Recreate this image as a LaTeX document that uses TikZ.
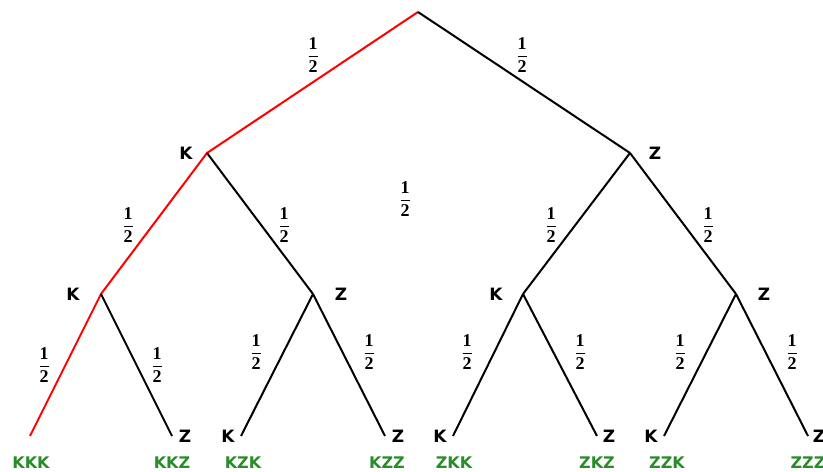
\documentclass[tikz,border=0pt]{standalone}
\usepackage{fontspec}
\setmainfont{Liberation Serif}
\newfontfamily\lblfont{DejaVu Sans}
\definecolor{leafgreen}{RGB}{40,140,40}
\tikzset{
  edge/.style={line width=2bp, black},
  redge/.style={line width=2bp, red},
  lbl/.style={font=\lblfont\bfseries\fontsize{17bp}{19bp}\selectfont, inner sep=0pt},
  leaf/.style={font=\lblfont\bfseries\fontsize{16bp}{18bp}\selectfont, text=leafgreen, inner sep=0pt},
  prob/.style={font=\bfseries\fontsize{18bp}{20bp}\selectfont, inner sep=0pt}
}
\newcommand{\half}{$\displaystyle\frac{\mbox{\bfseries 1}}{\mbox{\bfseries 2}}$}
\begin{document}
\begin{tikzpicture}[x=1bp,y=-1bp]
\useasboundingbox (0,0) rectangle (823,472);
% tree points
\coordinate (r) at (418,12);
\coordinate (a) at (207,153);
\coordinate (b) at (630,153);
\coordinate (aa) at (101,294);
\coordinate (ab) at (313,294);
\coordinate (ba) at (523,294);
\coordinate (bb) at (736,294);
\coordinate (l1) at (30,436);
\coordinate (l2) at (172,436);
\coordinate (l3) at (241,436);
\coordinate (l4) at (385,436);
\coordinate (l5) at (453,436);
\coordinate (l6) at (597,436);
\coordinate (l7) at (664,436);
\coordinate (l8) at (808,436);
% edges
\draw[redge, line join=miter] (r) -- (a) -- (aa) -- (l1);
\draw[edge] (r) -- (b);
\draw[edge] (a) -- (ab);
\draw[edge] (aa) -- (l2);
\draw[edge] (ab) -- (l3);
\draw[edge] (ab) -- (l4);
\draw[edge] (b) -- (ba);
\draw[edge] (b) -- (bb);
\draw[edge] (ba) -- (l5);
\draw[edge] (ba) -- (l6);
\draw[edge] (bb) -- (l7);
\draw[edge] (bb) -- (l8);
% node letters
\node[lbl] (ta) at (186,153) {K};
\node[lbl] (tb) at (655,153) {Z};
\node[lbl] (taa) at (73,294) {K};
\node[lbl] (tab) at (341,294) {Z};
\node[lbl] (tba) at (496,294) {K};
\node[lbl] (tbb) at (764,294) {Z};
\node[lbl] (t2) at (185,436) {Z};
\node[lbl] (t3) at (228,436) {K};
\node[lbl] (t4) at (398,436) {Z};
\node[lbl] (t5) at (440,436) {K};
\node[lbl] (t6) at (609,436) {Z};
\node[lbl] (t7) at (651,436) {K};
\node[lbl] (t8) at (819,436) {Z};
% leaf outcomes
\node[leaf] (o1) at (31,463) {KKK};
\node[leaf] (o2) at (172,463) {KKZ};
\node[leaf] (o3) at (243,463) {KZK};
\node[leaf] (o4) at (387,463) {KZZ};
\node[leaf] (o5) at (454,463) {ZKK};
\node[leaf] (o6) at (597,463) {ZKZ};
\node[leaf] (o7) at (667,463) {ZZK};
\node[leaf] (o8) at (808,463) {ZZZ};
% probabilities
\node[prob] (p1) at (313,55) {\half};
\node[prob] (p2) at (522,55) {\half};
\node[prob] (p3) at (128,225) {\half};
\node[prob] (p4) at (284,225) {\half};
\node[prob] (p5) at (405,199) {\half};
\node[prob] (p6) at (551,225) {\half};
\node[prob] (p7) at (708,225) {\half};
\node[prob] (p8) at (44,365) {\half};
\node[prob] (p9) at (157,365) {\half};
\node[prob] (p10) at (256,352) {\half};
\node[prob] (p11) at (369,352) {\half};
\node[prob] (p12) at (467,352) {\half};
\node[prob] (p13) at (580,352) {\half};
\node[prob] (p14) at (680,352) {\half};
\node[prob] (p15) at (792,352) {\half};
\end{tikzpicture}
\end{document}
